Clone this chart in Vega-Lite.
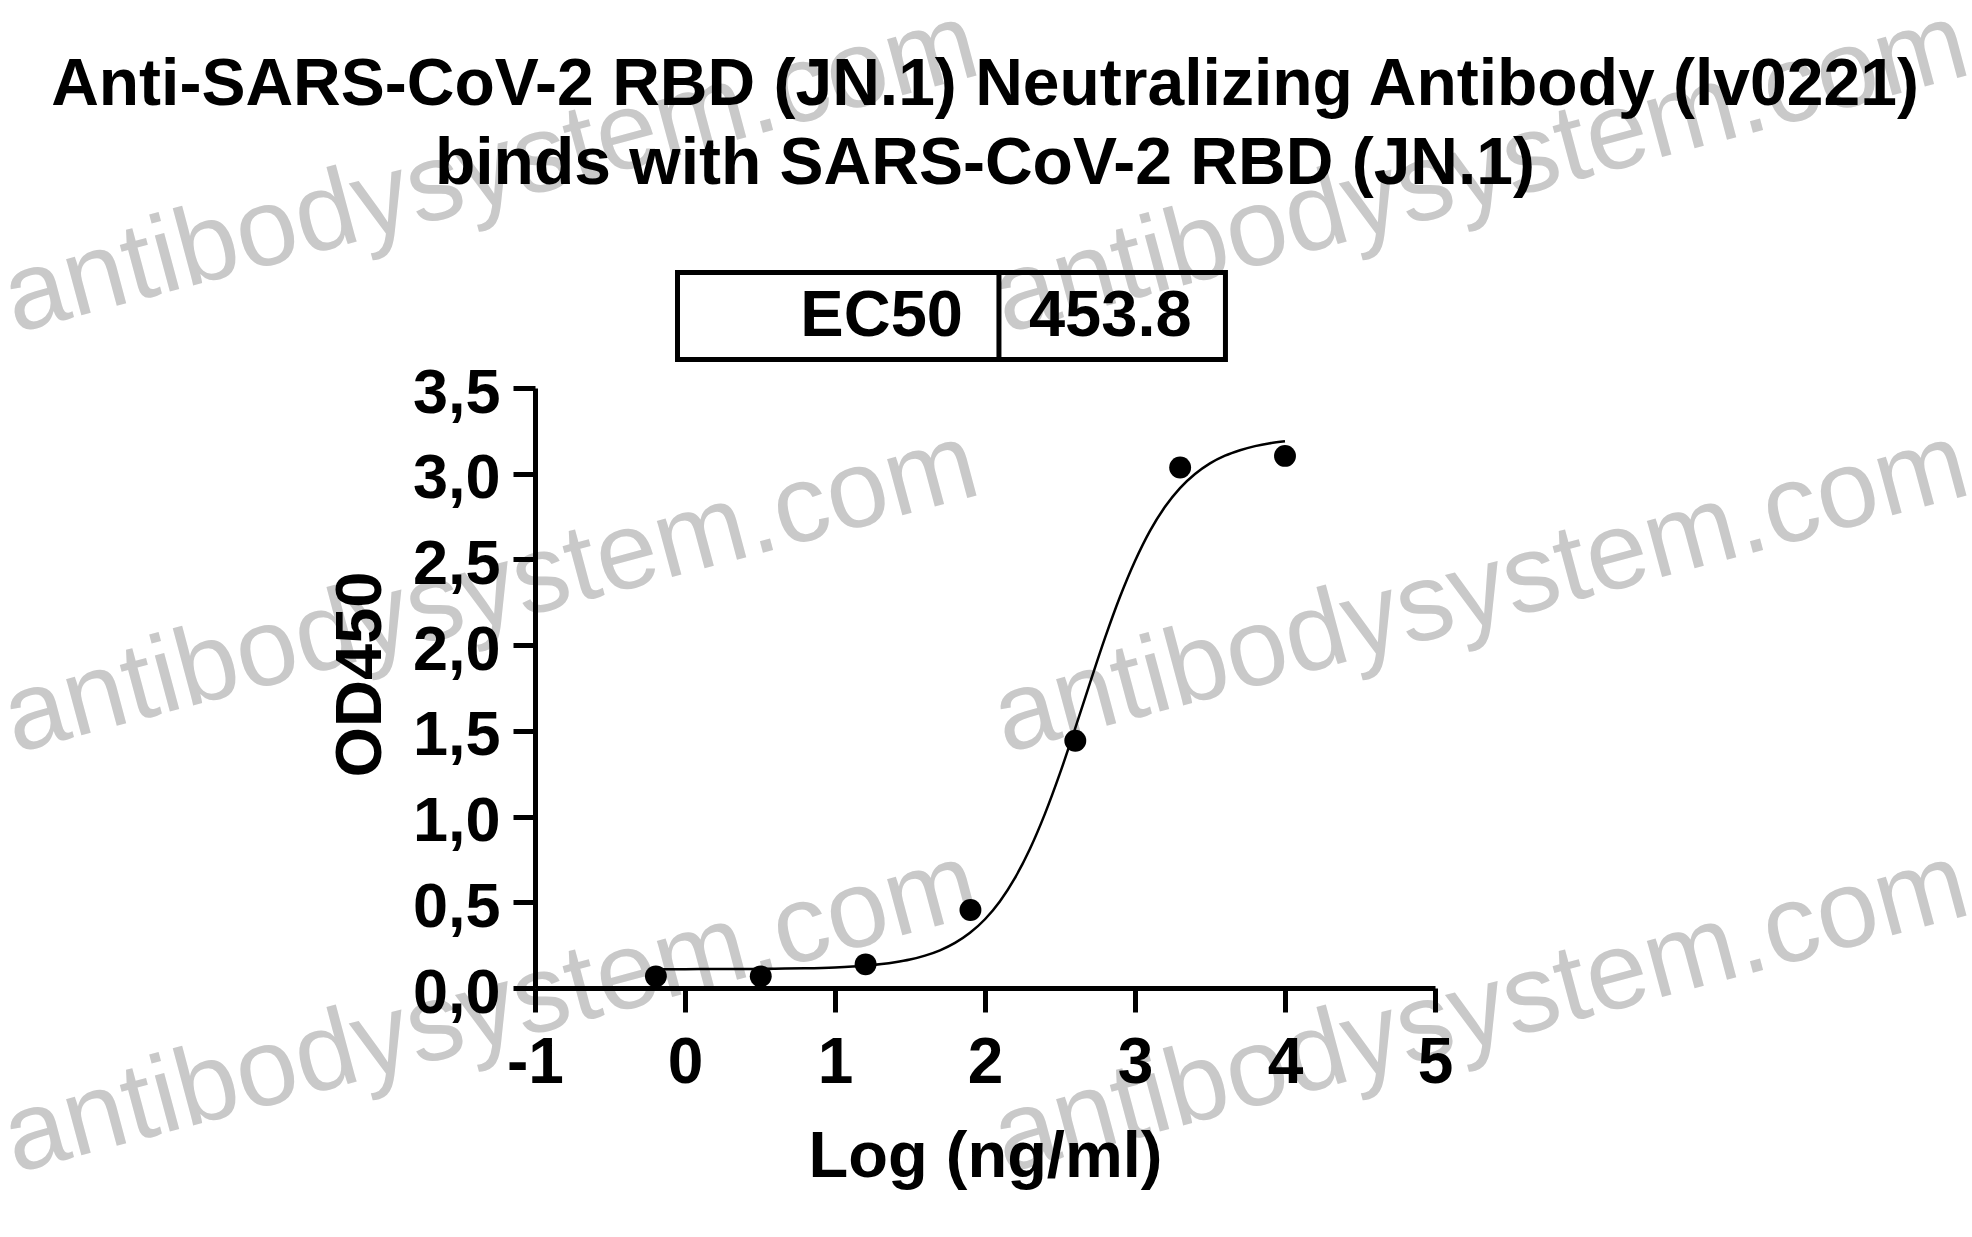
{
  "$schema": "https://vega.github.io/schema/vega-lite/v6.json",
  "width": 900,
  "height": 600,
  "autosize": {"type": "none"},
  "padding": {"left": 535, "top": 388, "right": 537, "bottom": 249},
  "background": "white",
  "config": {
    "view": {"stroke": null},
    "axis": {
      "domainColor": "black", "domainWidth": 5, "tickColor": "black", "tickWidth": 5,
      "labelColor": "black", "labelFont": "Liberation Sans", "labelFontWeight": "bold",
      "titleColor": "black", "titleFont": "Liberation Sans", "titleFontWeight": "bold",
      "grid": false, "labelOverlap": false, "labelFlush": false
    }
  },
  "layer": [
    {"data": {"values": [{"mark": "antibodysystem.com"}]},
     "mark": {"type": "text", "font": "Liberation Sans", "fontSize": 110, "color": "#c9c9c9", "angle": -15, "align": "left", "baseline": "alphabetic"},
     "encoding": {"text": {"field": "mark"},
       "x": {"datum": -4.467, "scale": {"domain": [-1, 5], "nice": false, "zero": false}},
       "y": {"datum": 3.82, "scale": {"domain": [0, 3.5], "nice": false, "zero": false}}}},
    {"data": {"values": [{"mark": "antibodysystem.com"}]},
     "mark": {"type": "text", "font": "Liberation Sans", "fontSize": 110, "color": "#c9c9c9", "angle": -15, "align": "left", "baseline": "alphabetic"},
     "encoding": {"text": {"field": "mark"},
       "x": {"datum": -4.467, "scale": {"domain": [-1, 5], "nice": false, "zero": false}},
       "y": {"datum": 1.37, "scale": {"domain": [0, 3.5], "nice": false, "zero": false}}}},
    {"data": {"values": [{"mark": "antibodysystem.com"}]},
     "mark": {"type": "text", "font": "Liberation Sans", "fontSize": 110, "color": "#c9c9c9", "angle": -15, "align": "left", "baseline": "alphabetic"},
     "encoding": {"text": {"field": "mark"},
       "x": {"datum": -4.467, "scale": {"domain": [-1, 5], "nice": false, "zero": false}},
       "y": {"datum": -1.08, "scale": {"domain": [0, 3.5], "nice": false, "zero": false}}}},
    {"data": {"values": [{"mark": "antibodysystem.com"}]},
     "mark": {"type": "text", "font": "Liberation Sans", "fontSize": 110, "color": "#c9c9c9", "angle": -15, "align": "left", "baseline": "alphabetic"},
     "encoding": {"text": {"field": "mark"},
       "x": {"datum": 2.133, "scale": {"domain": [-1, 5], "nice": false, "zero": false}},
       "y": {"datum": 3.82, "scale": {"domain": [0, 3.5], "nice": false, "zero": false}}}},
    {"data": {"values": [{"mark": "antibodysystem.com"}]},
     "mark": {"type": "text", "font": "Liberation Sans", "fontSize": 110, "color": "#c9c9c9", "angle": -15, "align": "left", "baseline": "alphabetic"},
     "encoding": {"text": {"field": "mark"},
       "x": {"datum": 2.133, "scale": {"domain": [-1, 5], "nice": false, "zero": false}},
       "y": {"datum": 1.37, "scale": {"domain": [0, 3.5], "nice": false, "zero": false}}}},
    {"data": {"values": [{"mark": "antibodysystem.com"}]},
     "mark": {"type": "text", "font": "Liberation Sans", "fontSize": 110, "color": "#c9c9c9", "angle": -15, "align": "left", "baseline": "alphabetic"},
     "encoding": {"text": {"field": "mark"},
       "x": {"datum": 2.133, "scale": {"domain": [-1, 5], "nice": false, "zero": false}},
       "y": {"datum": -1.08, "scale": {"domain": [0, 3.5], "nice": false, "zero": false}}}},
    {"data": {"values": [{"title": "chart title"}]},
     "mark": {"type": "text", "font": "Liberation Sans", "fontWeight": "bold", "fontSize": 66, "lineHeight": 79, "color": "black", "align": "center", "baseline": "alphabetic",
       "text": ["Anti-SARS-CoV-2 RBD (JN.1) Neutralizing Antibody (lv0221)", "binds with SARS-CoV-2 RBD (JN.1)"]},
     "encoding": {
       "x": {"datum": 2.0, "scale": {"domain": [-1, 5], "nice": false, "zero": false}},
       "y": {"datum": 5.151, "scale": {"domain": [0, 3.5], "nice": false, "zero": false}}}},
    {"data": {"values": [{"label": "EC50", "value": "453.8"}]},
     "mark": {"type": "rect", "filled": false, "stroke": "black", "strokeWidth": 5},
     "encoding": {
       "x": {"datum": -0.05, "scale": {"domain": [-1, 5], "nice": false, "zero": false}},
       "x2": {"datum": 3.603},
       "y": {"datum": 4.174, "scale": {"domain": [0, 3.5], "nice": false, "zero": false}},
       "y2": {"datum": 3.666}}},
    {"data": {"values": [{"label": "EC50", "value": "453.8"}]},
     "mark": {"type": "rule", "stroke": "black", "strokeWidth": 5},
     "encoding": {
       "x": {"datum": 2.093, "scale": {"domain": [-1, 5], "nice": false, "zero": false}},
       "y": {"datum": 4.174, "scale": {"domain": [0, 3.5], "nice": false, "zero": false}},
       "y2": {"datum": 3.666}}},
    {"data": {"values": [{"label": "EC50", "value": "453.8"}]},
     "mark": {"type": "text", "font": "Liberation Sans", "fontWeight": "bold", "fontSize": 65, "color": "black", "align": "right", "baseline": "alphabetic"},
     "encoding": {"text": {"field": "label"},
       "x": {"datum": 1.853, "scale": {"domain": [-1, 5], "nice": false, "zero": false}},
       "y": {"datum": 3.803, "scale": {"domain": [0, 3.5], "nice": false, "zero": false}}}},
    {"data": {"values": [{"label": "EC50", "value": "453.8"}]},
     "mark": {"type": "text", "font": "Liberation Sans", "fontWeight": "bold", "fontSize": 65, "color": "black", "align": "left", "baseline": "alphabetic"},
     "encoding": {"text": {"field": "value"},
       "x": {"datum": 2.293, "scale": {"domain": [-1, 5], "nice": false, "zero": false}},
       "y": {"datum": 3.803, "scale": {"domain": [0, 3.5], "nice": false, "zero": false}}}},
    {"data": {"values": [
       {"logc": -0.194, "od": 0.110}, {"logc": -0.1, "od": 0.110}, {"logc": 0.0, "od": 0.110},
       {"logc": 0.2, "od": 0.111}, {"logc": 0.4, "od": 0.111}, {"logc": 0.6, "od": 0.113},
       {"logc": 0.8, "od": 0.115}, {"logc": 1.0, "od": 0.120}, {"logc": 1.2, "od": 0.130},
       {"logc": 1.4, "od": 0.150}, {"logc": 1.5, "od": 0.166}, {"logc": 1.6, "od": 0.189},
       {"logc": 1.7, "od": 0.220}, {"logc": 1.8, "od": 0.263}, {"logc": 1.9, "od": 0.322},
       {"logc": 2.0, "od": 0.401}, {"logc": 2.1, "od": 0.506}, {"logc": 2.2, "od": 0.642},
       {"logc": 2.3, "od": 0.812}, {"logc": 2.4, "od": 1.017}, {"logc": 2.5, "od": 1.253},
       {"logc": 2.6, "od": 1.512}, {"logc": 2.7, "od": 1.780}, {"logc": 2.8, "od": 2.042},
       {"logc": 2.9, "od": 2.282}, {"logc": 3.0, "od": 2.491}, {"logc": 3.1, "od": 2.667},
       {"logc": 3.2, "od": 2.807}, {"logc": 3.3, "od": 2.916}, {"logc": 3.4, "od": 2.998},
       {"logc": 3.5, "od": 3.060}, {"logc": 3.6, "od": 3.105}, {"logc": 3.7, "od": 3.137},
       {"logc": 3.8, "od": 3.161}, {"logc": 3.9, "od": 3.178}, {"logc": 4.0, "od": 3.190}
     ]},
     "mark": {"type": "line", "color": "black", "strokeWidth": 2.5, "interpolate": "monotone"},
     "encoding": {
       "x": {"field": "logc", "type": "quantitative", "scale": {"domain": [-1, 5], "nice": false, "zero": false},
             "axis": {"title": "Log (ng/ml)", "zindex": 1}},
       "y": {"field": "od", "type": "quantitative", "scale": {"domain": [0, 3.5], "nice": false, "zero": false},
             "axis": {"title": "OD450", "zindex": 1}}}},
    {"data": {"values": [
       {"logc": -0.194, "od": 0.068}, {"logc": 0.505, "od": 0.068}, {"logc": 1.204, "od": 0.138},
       {"logc": 1.903, "od": 0.455}, {"logc": 2.602, "od": 1.442}, {"logc": 3.301, "od": 3.036},
       {"logc": 4.0, "od": 3.104}
     ]},
     "mark": {"type": "circle", "color": "black", "size": 480, "opacity": 1},
     "encoding": {
       "x": {"field": "logc", "type": "quantitative", "scale": {"domain": [-1, 5], "nice": false, "zero": false},
             "axis": {"title": "Log (ng/ml)", "values": [-1, 0, 1, 2, 3, 4, 5], "zindex": 1,
                      "labelExpr": "datum.value < 0 ? '-' + abs(datum.value) : '' + datum.value",
                      "tickSize": 24, "labelFontSize": 64, "labelPadding": 19,
                      "titleFontSize": 65, "titleY": 188, "titleBaseline": "alphabetic"}},
       "y": {"field": "od", "type": "quantitative", "scale": {"domain": [0, 3.5], "nice": false, "zero": false},
             "axis": {"title": "OD450", "values": [0, 0.5, 1, 1.5, 2, 2.5, 3, 3.5], "zindex": 1,
                      "labelExpr": "replace(format(datum.value, '.1f'), '.', ',')",
                      "tickSize": 22, "labelFontSize": 63, "labelPadding": 13, "labelOffset": 5,
                      "titleFontSize": 65, "titleAngle": -90, "titleX": -155, "titleY": 286,
                      "titleAlign": "center", "titleBaseline": "alphabetic"}}}}
  ]
}
